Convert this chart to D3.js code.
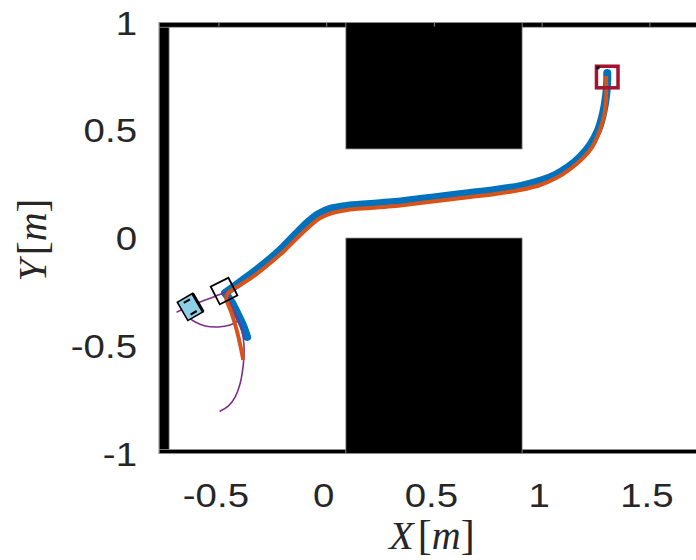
<!DOCTYPE html>
<html>
<head>
<meta charset="utf-8">
<script src="https://cdn.jsdelivr.net/npm/d3@7"></script>
<style>
  html, body { margin: 0; padding: 0; background: #fff; }
  svg { display: block; }
</style>
</head>
<body>
<svg id="chart" width="696" height="560"></svg>
<script>
// Axis ticks
const xTicks = [-0.5, 0, 0.5, 1, 1.5];
const yTicks = [-1, -0.5, 0, 0.5, 1];

// Environment: outer walls and the two central blocks [x0, x1, y0, y1] in metres
const walls = [
  [-0.778, -0.731, -1, 1],     // left wall
  [-0.778, 1.9, 0.978, 1],     // top wall
  [-0.778, 1.9, -1, -0.981],   // bottom wall
  [0.089, 0.907, 0.413, 1],    // upper block
  [0.089, 0.907, -1, 0.0]      // lower block
];

// Bundle of executed trajectories (drawn thick)
const bundleMain = [
  [-0.471,-0.255],[-0.401,-0.204],[-0.332,-0.153],[-0.262,-0.097],[-0.202,-0.042],
  [-0.142,0.019],[-0.086,0.074],[-0.039,0.111],[0.016,0.135],[0.086,0.148],
  [0.202,0.158],[0.318,0.167],[0.434,0.181],[0.550,0.195],[0.666,0.209],
  [0.782,0.223],[0.898,0.241],[0.991,0.265],[1.060,0.292],[1.121,0.329],
  [1.176,0.376],[1.223,0.432],[1.260,0.501],[1.283,0.580],[1.297,0.664],
  [1.302,0.733],[1.302,0.766]
];
const bundleStub = [
  [-0.471,-0.255],[-0.439,-0.302],[-0.411,-0.357],[-0.387,-0.408],[-0.369,-0.459]
];

// Reference path
const reference = [
  [-0.387,-0.566],[-0.401,-0.497],[-0.420,-0.418],[-0.443,-0.343],[-0.466,-0.278],
  [-0.457,-0.255],[-0.401,-0.218],[-0.332,-0.172],[-0.262,-0.116],[-0.197,-0.060],
  [-0.137,0.000],[-0.077,0.056],[-0.030,0.093],[0.026,0.116],[0.095,0.130],
  [0.202,0.139],[0.318,0.148],[0.434,0.162],[0.550,0.176],[0.666,0.190],
  [0.782,0.204],[0.898,0.223],[0.991,0.246],[1.065,0.278],[1.130,0.320],
  [1.186,0.367],[1.232,0.422],[1.265,0.492],[1.288,0.571],[1.297,0.654],
  [1.297,0.724],[1.297,0.752]
];

// Thin alternative trajectories
const altA = [
  [-0.694,-0.343],[-0.633,-0.316],[-0.564,-0.288],[-0.503,-0.265],[-0.466,-0.251]
];
const altB = [
  [-0.643,-0.367],[-0.610,-0.390],[-0.564,-0.408],[-0.503,-0.413],[-0.448,-0.404],[-0.411,-0.385]
];
const altC = [
  [-0.466,-0.265],[-0.434,-0.333],[-0.401,-0.402],[-0.387,-0.464],[-0.383,-0.520],
  [-0.387,-0.589],[-0.401,-0.673],[-0.425,-0.738],[-0.457,-0.780],[-0.494,-0.803]
];

// Poses: robot, start marker, goal marker  [x, y, width, height, angleDeg]
const robotPose = [-0.633, -0.320, 0.082, 0.098, 30];
const startPose = [-0.476, -0.246, 0.092, 0.092, 27];
const goalPose  = [1.302, 0.747, 0.100, 0.100, 0];

const svg = d3.select("#chart");

const x = d3.scaleLinear().domain([-0.778, 1.85]).range([159, 159 + 2.628 * 215.5]);
const y = d3.scaleLinear().domain([-1, 1]).range([453.5, 22.5]);
const k = 215.5; // pixels per metre

svg.append("defs").append("clipPath").attr("id", "plotclip")
  .append("rect")
  .attr("x", x(-0.778)).attr("y", y(1))
  .attr("width", x(1.85) - x(-0.778)).attr("height", y(-1) - y(1));

const plot = svg.append("g").attr("clip-path", "url(#plotclip)");

// Walls and blocks
plot.selectAll("rect.wall").data(walls).join("rect")
  .attr("class", "wall")
  .attr("x", d => x(d[0]))
  .attr("y", d => y(d[3]))
  .attr("width", d => x(d[1]) - x(d[0]))
  .attr("height", d => y(d[2]) - y(d[3]))
  .attr("fill", "#000")
  .attr("stroke", "#9a9a9a")
  .attr("stroke-width", 0.8);

const line = d3.line().x(d => x(d[0])).y(d => y(d[1])).curve(d3.curveCatmullRom.alpha(0.5));

// Thick bundle
[bundleMain, bundleStub].forEach(p => {
  plot.append("path").attr("d", line(p))
    .attr("fill", "none").attr("stroke", "#0072BD")
    .attr("stroke-width", 8).attr("stroke-linecap", "round").attr("stroke-linejoin", "round");
});

// Thin alternatives
[altA, altB, altC].forEach(p => {
  plot.append("path").attr("d", line(p))
    .attr("fill", "none").attr("stroke", "#7E2F8E")
    .attr("stroke-width", 1.6).attr("stroke-linecap", "round");
});

// Reference
plot.append("path").attr("d", line(reference))
  .attr("fill", "none").attr("stroke", "#D95319")
  .attr("stroke-width", 4).attr("stroke-linejoin", "miter");

// Robot body
const rg = plot.append("g")
  .attr("transform", `translate(${x(robotPose[0])},${y(robotPose[1])}) rotate(${-robotPose[4]})`);
const rw = robotPose[2] * k, rh = robotPose[3] * k;
rg.append("rect").attr("x", -rw / 2).attr("y", -rh / 2).attr("width", rw).attr("height", rh)
  .attr("fill", "#8ecfe6").attr("stroke", "#000").attr("stroke-width", 1.6);
rg.append("line").attr("x1", rw / 2).attr("x2", rw / 2).attr("y1", -rh / 2).attr("y2", rh / 2)
  .attr("stroke", "#000").attr("stroke-width", 3);
[-1, 1].forEach(s => {
  rg.append("line").attr("x1", -rw * 0.2).attr("x2", rw * 0.2)
    .attr("y1", s * rh * 0.32).attr("y2", s * rh * 0.32)
    .attr("stroke", "#000").attr("stroke-width", 2.2);
});

// Start marker
plot.append("rect")
  .attr("transform", `translate(${x(startPose[0])},${y(startPose[1])}) rotate(${-startPose[4]})`)
  .attr("x", -startPose[2] * k / 2).attr("y", -startPose[3] * k / 2)
  .attr("width", startPose[2] * k).attr("height", startPose[3] * k)
  .attr("fill", "none").attr("stroke", "#000").attr("stroke-width", 1.8);

// Goal marker
plot.append("rect")
  .attr("x", x(goalPose[0]) - goalPose[2] * k / 2).attr("y", y(goalPose[1]) - goalPose[3] * k / 2)
  .attr("width", goalPose[2] * k).attr("height", goalPose[3] * k)
  .attr("fill", "none").attr("stroke", "#A2142F").attr("stroke-width", 3.5);
plot.append("rect")
  .attr("x", x(goalPose[0]) - goalPose[2] * k / 2).attr("y", y(goalPose[1]) - goalPose[3] * k / 2)
  .attr("width", 3).attr("height", 3).attr("fill", "#000");

// Axes box
svg.append("rect")
  .attr("x", x(-0.778)).attr("y", y(1))
  .attr("width", x(1.85) - x(-0.778)).attr("height", y(-1) - y(1))
  .attr("fill", "none").attr("stroke", "#8c8c8c").attr("stroke-width", 1);

svg.append("g").selectAll("line").data(xTicks).join("line")
  .attr("x1", d => x(d)).attr("x2", d => x(d))
  .attr("y1", y(1)).attr("y2", y(1) + 4)
  .attr("stroke", "#8c8c8c").attr("stroke-width", 1);

// Tick labels (slightly widened glyphs)
const tickFont = "'Liberation Sans', Arial, Helvetica, sans-serif";
svg.append("g").selectAll("text").data(xTicks).join("text")
  .attr("transform", d => `translate(${x(d) - 3},507) scale(1.13,1)`)
  .attr("text-anchor", "middle")
  .attr("font-family", tickFont).attr("font-size", 34).attr("fill", "#262626")
  .text(d => String(d));

svg.append("g").selectAll("text").data(yTicks).join("text")
  .attr("transform", d => `translate(137,${y(d) + 12}) scale(1.13,1)`)
  .attr("text-anchor", "end")
  .attr("font-family", tickFont).attr("font-size", 34).attr("fill", "#262626")
  .text(d => String(d));

// Axis titles
const serif = "'Liberation Serif', 'DejaVu Serif', serif";
function mathLabel(sel, letter) {
  sel.append("tspan").attr("font-style", "italic").text(letter);
  sel.append("tspan").attr("dx", 4).attr("font-size", 42).text("[");
  sel.append("tspan").attr("font-style", "italic").text("m");
  sel.append("tspan").attr("font-size", 42).text("]");
}
const xl = svg.append("text").attr("x", 432).attr("y", 549)
  .attr("text-anchor", "middle").attr("font-family", serif).attr("font-size", 40).attr("fill", "#262626");
mathLabel(xl, "X");

const yl = svg.append("text")
  .attr("transform", "translate(46,240) rotate(-90)")
  .attr("text-anchor", "middle").attr("font-family", serif).attr("font-size", 40).attr("fill", "#262626");
mathLabel(yl, "Y");
</script>
</body>
</html>
